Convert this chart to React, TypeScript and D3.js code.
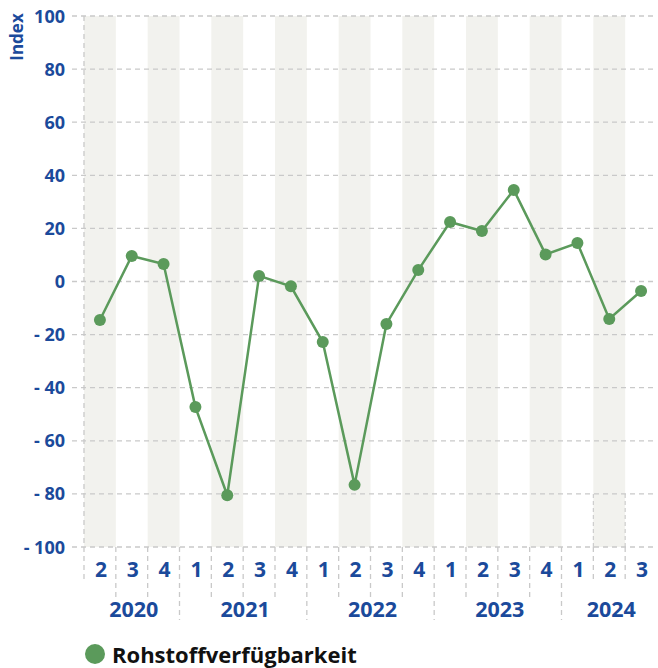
import { useEffect, useRef } from 'react';
import * as d3 from 'd3';

const years = ['2020', '2021', '2022', '2023', '2024'];
const quarterYears = ['2020', '2020', '2020', '2021', '2021', '2021', '2021', '2022', '2022', '2022', '2022', '2023', '2023', '2023', '2023', '2024', '2024', '2024'];
const quarterNums = ['2', '3', '4', '1', '2', '3', '4', '1', '2', '3', '4', '1', '2', '3', '4', '1', '2', '3'];
const values = [-14.5, 9.6, 6.6, -47.3, -80.5, 2.1, -1.8, -22.8, -76.6, -16, 4.3, 22.4, 19, 34.5, 10.2, 14.5, -14.1, -3.6];
const yTicks = [100, 80, 60, 40, 20, 0, -20, -40, -60, -80, -100];
const seriesName = 'Rohstoffverfügbarkeit';

const W = 658;
const H = 668;
const blue = '#1b4a9b';
const green = '#5b9a5b';
const gridColor = '#c9c9c9';
const font = "'Open Sans', sans-serif";

const App = () => {
  const svgRef = useRef<SVGSVGElement>(null);

  useEffect(() => {
    const svg = d3.select(svgRef.current);
    svg.selectAll('*').remove();

    const left = 84;
    const right = 657;
    const top = 16;
    const bottom = 547;

    const keys = quarterNums.map((q, i) => quarterYears[i] + '-' + q);
    const x = d3.scaleBand().domain(keys).range([left, right]).padding(0);
    const y = d3.scaleLinear().domain([-100, 100]).range([bottom, top]);
    const bw = x.bandwidth();

    // alternating background bands
    svg
      .append('g')
      .selectAll('rect')
      .data(keys.filter((_, i) => i % 2 === 0))
      .enter()
      .append('rect')
      .attr('x', (d) => x(d)!)
      .attr('y', top)
      .attr('width', bw)
      .attr('height', bottom - top)
      .attr('fill', '#f2f2ee');

    // horizontal grid
    svg
      .append('g')
      .selectAll('line')
      .data(yTicks)
      .enter()
      .append('line')
      .attr('x1', left - 12)
      .attr('x2', right)
      .attr('y1', (d) => y(d))
      .attr('y2', (d) => y(d))
      .attr('stroke', gridColor)
      .attr('stroke-width', 1.3)
      .attr('stroke-dasharray', '5,4');

    // left border of plot
    svg
      .append('line')
      .attr('x1', left)
      .attr('x2', left)
      .attr('y1', top)
      .attr('y2', 580)
      .attr('stroke', gridColor)
      .attr('stroke-width', 1.3)
      .attr('stroke-dasharray', '5,4');

    // small stray box around 2024 Q2
    const k24 = '2024-2';
    [x(k24)!, x(k24)! + bw].forEach((xx) => {
      svg
        .append('line')
        .attr('x1', xx)
        .attr('x2', xx)
        .attr('y1', y(-80))
        .attr('y2', bottom)
        .attr('stroke', gridColor)
        .attr('stroke-width', 1.1)
        .attr('stroke-dasharray', '4,3');
    });

    // x category separators
    const bounds = keys.slice(1).map((k, i) => {
      const prevYear = quarterYears[i];
      const thisYear = quarterYears[i + 1];
      let end = 597;
      if (prevYear !== thisYear) end = 620;
      else if (thisYear === '2024') end = 580;
      return { xx: x(k)!, end };
    });
    svg
      .append('g')
      .selectAll('line')
      .data(bounds)
      .enter()
      .append('line')
      .attr('x1', (d) => d.xx)
      .attr('x2', (d) => d.xx)
      .attr('y1', bottom)
      .attr('y2', (d) => d.end)
      .attr('stroke', gridColor)
      .attr('stroke-width', 1.3)
      .attr('stroke-dasharray', '5,4');

    // y labels
    svg
      .append('g')
      .selectAll('text')
      .data(yTicks)
      .enter()
      .append('text')
      .attr('x', 65)
      .attr('y', (d) => y(d) + 6.5)
      .attr('text-anchor', 'end')
      .attr('fill', blue)
      .attr('font-family', font)
      .attr('font-weight', 700)
      .attr('font-size', 18)
      .text((d) => (d < 0 ? '- ' + Math.abs(d) : String(d)));

    svg
      .append('text')
      .attr('transform', 'translate(23,37) rotate(-90)')
      .attr('text-anchor', 'middle')
      .attr('fill', blue)
      .attr('font-family', font)
      .attr('font-weight', 700)
      .attr('font-size', 17)
      .text('Index');

    // quarter labels
    svg
      .append('g')
      .selectAll('text')
      .data(keys)
      .enter()
      .append('text')
      .attr('x', (d) => x(d)! + bw / 2 + 1)
      .attr('y', 577)
      .attr('text-anchor', 'middle')
      .attr('fill', blue)
      .attr('font-family', font)
      .attr('font-weight', 700)
      .attr('font-size', 21)
      .text((_, i) => quarterNums[i]);

    // year labels
    svg
      .append('g')
      .selectAll('text')
      .data(years)
      .enter()
      .append('text')
      .attr('x', (yr) => {
        const ks = keys.filter((_, i) => quarterYears[i] === yr);
        return (x(ks[0])! + x(ks[ks.length - 1])! + bw) / 2 + 2;
      })
      .attr('y', 617)
      .attr('text-anchor', 'middle')
      .attr('fill', blue)
      .attr('font-family', font)
      .attr('font-weight', 700)
      .attr('font-size', 21.5)
      .text((d) => d);

    // series
    const line = d3
      .line<number>()
      .x((_, i) => x(keys[i])! + bw / 2)
      .y((d) => y(d));

    svg
      .append('path')
      .datum(values)
      .attr('d', line)
      .attr('fill', 'none')
      .attr('stroke', green)
      .attr('stroke-width', 2.5);

    svg
      .append('g')
      .selectAll('circle')
      .data(values)
      .enter()
      .append('circle')
      .attr('cx', (_, i) => x(keys[i])! + bw / 2)
      .attr('cy', (d) => y(d))
      .attr('r', 6)
      .attr('fill', green);

    // legend
    svg
      .append('circle')
      .attr('cx', 95)
      .attr('cy', 654)
      .attr('r', 10)
      .attr('fill', green);
    svg
      .append('text')
      .attr('x', 112)
      .attr('y', 663)
      .attr('fill', '#111')
      .attr('font-family', font)
      .attr('font-weight', 700)
      .attr('font-size', 22)
      .text(seriesName);
  }, []);

  return (
    <svg
      ref={svgRef}
      width={W}
      height={H}
      style={{ position: 'absolute', left: 0, top: 0, background: '#fff' }}
    />
  );
};

export default App;
